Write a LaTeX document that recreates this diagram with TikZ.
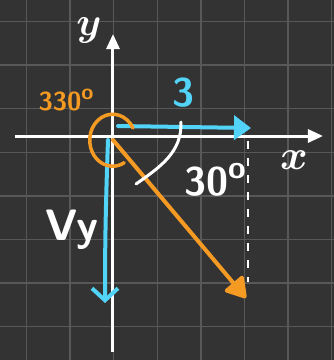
\documentclass[tikz,border=0pt]{standalone}
\usepackage{amsmath}
\usepackage{tikz}
\usetikzlibrary{arrows.meta}
\definecolor{board}{RGB}{51,51,51}
\definecolor{gridgray}{RGB}{88,88,88}
\definecolor{chalkblue}{RGB}{82,212,248}
\definecolor{chalkorange}{RGB}{245,155,35}
\newcommand{\chalkdeg}[1]{\raisebox{0.42em}{\fontsize{#1}{#1}\selectfont o}}
\tikzset{
    % axes in white chalk
    axisline/.style={
        line width=3pt,
        white,
        -{Triangle[length=15pt, width=13pt]}
    },
    % blue component arrows
    bluearrow/.style={
        line width=4pt,
        chalkblue,
        line cap=round,
        -{Triangle[length=17pt, width=24pt]}
    },
    bluebarb/.style={
        line width=4pt,
        chalkblue,
        line cap=round,
        -{Straight Barb[length=12pt, width=26pt, line width=4pt]}
    },
    orangearrow/.style={
        line width=4pt,
        chalkorange,
        line cap=round,
        -{Triangle[length=22pt, width=26pt, round]}
    },
    chalklabel/.style={inner sep=0pt, font=\sffamily\bfseries}
}

\begin{document}
\begin{tikzpicture}[x=1pt,y=1pt]
    \useasboundingbox (0,0) rectangle (334,-360);
    \fill[board] (0,0) rectangle (334,-360);

    % grid
    \foreach \k in {0,...,7}{
        \draw[gridgray,line width=1.5pt] (26.5+43.6*\k,0) -- (26.5+43.6*\k,-360);
        \draw[gridgray,line width=1.5pt] (0,-21.5-43.6*\k) -- (334,-21.5-43.6*\k);
    }

    \path
        (113,-136) coordinate (O)
        (15,-136) coordinate (xs)
        (323,-136) coordinate (xe)
        (113,-352) coordinate (ys)
        (113,-34) coordinate (ye)
        (118,-126) coordinate (b1)
        (251,-128) coordinate (b2)
        (108,-140) coordinate (b3)
        (105,-303) coordinate (b4)
        (113,-140) coordinate (r1)
        (246,-298) coordinate (r2)
        (248,-141) coordinate (d1)
        (248,-282) coordinate (d2)
        (181,-122) coordinate (w1)
        (136,-184) coordinate (w2)
        ;

    % axes
    \draw[axisline] (xs) -- (xe);
    \draw[axisline] (ys) -- (ye);

    % dashed drop line
    \draw[white,line width=2pt,dash pattern=on 8pt off 9pt] (d1) -- (d2);

    % components
    \draw[bluearrow] (b1) -- (b2);
    \draw[bluebarb] (b3) to[out=-92,in=90] (b4);

    % the vector itself
    \draw[orangearrow] (r1) -- (r2);

    % angle marks
    \draw[white,line width=3pt,line cap=round] (w1) to[out=-88,in=35] (w2);
    \draw[chalkorange,line width=3.5pt,line cap=round]
        (133,-128) arc[start angle=28, end angle=300, x radius=23, y radius=26];

    % labels
    \node[chalklabel,white,scale=4] (lbly) at (89,-30) {$\boldsymbol{y}$};
    \node[chalklabel,white,scale=4.2] (lblx) at (294,-160) {$\boldsymbol{x}$};
    \node[chalklabel,chalkorange] (lbl330) at (66,-100) {\fontsize{26}{26}\selectfont 330\chalkdeg{22}};
    \node[chalklabel,chalkblue] (lbl3) at (183,-93) {\fontsize{40}{40}\selectfont 3};
    \node[chalklabel,white] (lbl30) at (215,-180) {\fontsize{40}{40}\selectfont 30\chalkdeg{32}};
    \node[chalklabel,white] (lblvy) at (72,-230) {\fontsize{44}{44}\selectfont Vy};
\end{tikzpicture}
\end{document}
